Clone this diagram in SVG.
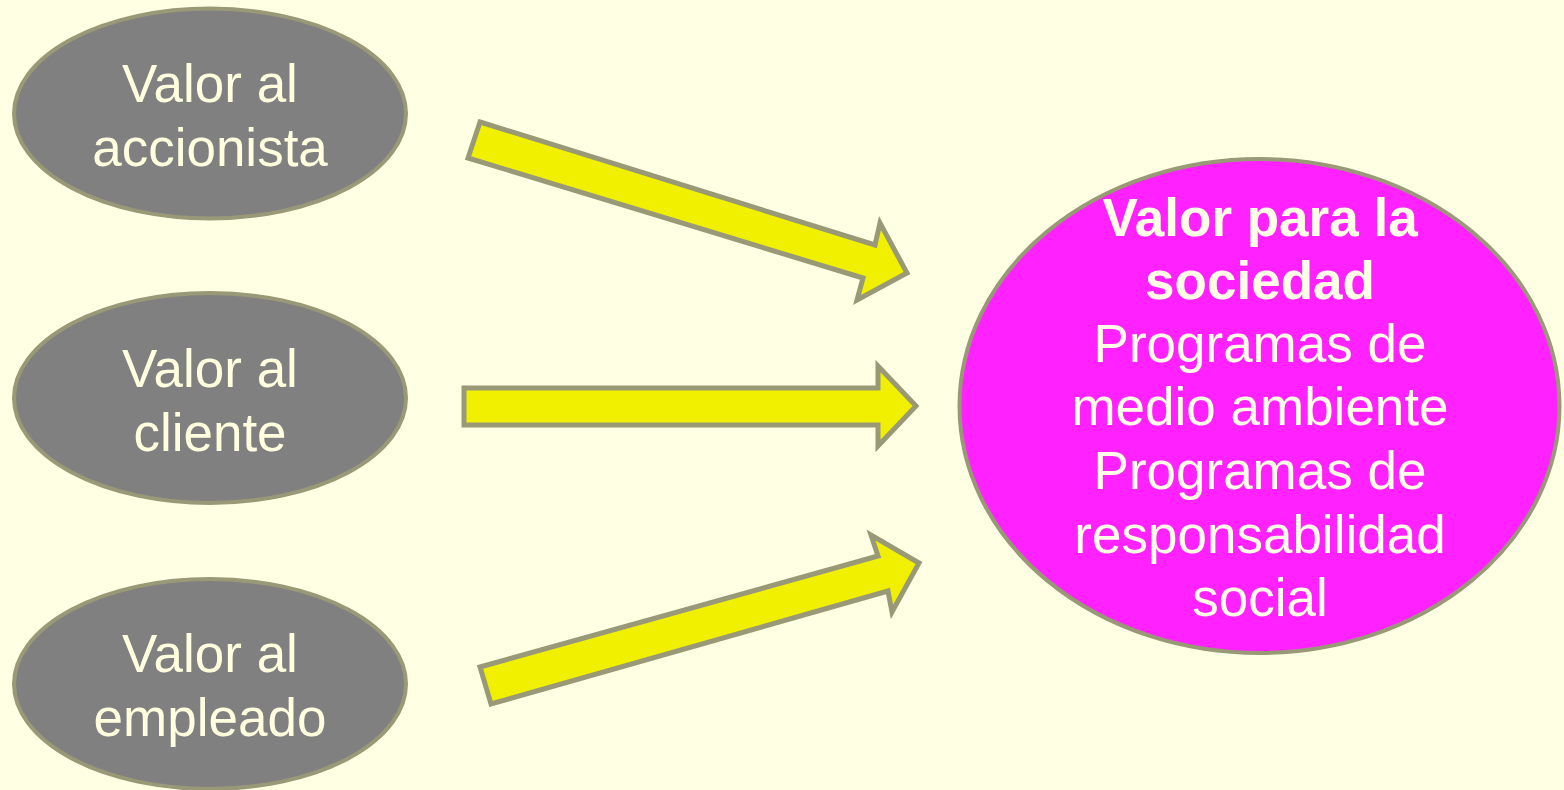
<svg xmlns="http://www.w3.org/2000/svg" width="1564" height="790" viewBox="0 0 1564 790">
<style>
.bg{fill:#FFFFE3}
.src{fill:#808080;stroke:#999977;stroke-width:4}
.dst{fill:#FF22FF;stroke:#999977;stroke-width:4}
.arr{fill:#F0F000;stroke:#999977;stroke-width:5;stroke-linejoin:miter}
.t1{font-family:"Liberation Sans",Arial,sans-serif;font-size:53px;fill:#FFFFE0;text-anchor:middle}
.t2{font-family:"Liberation Sans",Arial,sans-serif;font-size:53px;fill:#FFFFE6;text-anchor:middle}
.b{font-weight:bold}
</style>
<rect class="bg" x="0" y="0" width="1564" height="790"/>
<g id="connectors">
<polygon class="arr" points="480,122 875,245 880,223 907,273 857,300 863,278 468,158"/>
<polygon class="arr" points="464,388 878,388 878,366 916,406 878,446 878,425 464,425"/>
<polygon class="arr" points="480,667 878,556 871,535 919,563 892,612 888,591 491,704"/>
</g>
<g id="node-accionista">
<ellipse class="src" cx="210" cy="113.5" rx="196" ry="105"/>
<text class="t1" x="210" y="102">Valor al</text>
<text class="t1" x="210" y="166">accionista</text>
</g>
<g id="node-cliente">
<ellipse class="src" cx="210" cy="398" rx="196" ry="105"/>
<text class="t1" x="210" y="387">Valor al</text>
<text class="t1" x="210" y="451">cliente</text>
</g>
<g id="node-empleado">
<ellipse class="src" cx="210" cy="684" rx="196" ry="105"/>
<text class="t1" x="210" y="672">Valor al</text>
<text class="t1" x="210" y="736">empleado</text>
</g>
<g id="node-sociedad">
<ellipse class="dst" cx="1259.5" cy="406" rx="300" ry="247"/>
<text class="t2 b" x="1260" y="236">Valor para la</text>
<text class="t2 b" x="1260" y="299">sociedad</text>
<text class="t2" x="1260" y="362">Programas de</text>
<text class="t2" x="1260" y="425">medio ambiente</text>
<text class="t2" x="1260" y="489">Programas de</text>
<text class="t2" x="1260" y="553">responsabilidad</text>
<text class="t2" x="1260" y="616">social</text>
</g>
</svg>
